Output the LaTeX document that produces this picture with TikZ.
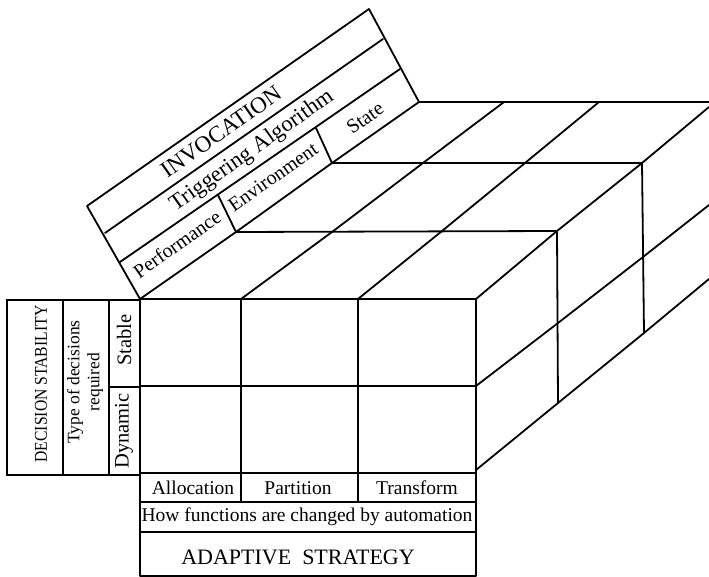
\documentclass[tikz,border=0pt]{standalone}
\usepackage{fontspec}
\setmainfont{Liberation Serif}
\begin{document}
\begin{tikzpicture}[x=1pt,y=-1pt,
  ln/.style={line width=1.8pt, line cap=round, line join=round},
  bx/.style={line width=1.5pt, line join=miter},
  lbl/.style={inner sep=0pt, font=\fontsize{19.5}{22}\selectfont},
  big/.style={inner sep=0pt, font=\fontsize{23}{26}\selectfont},
  band/.style={inner sep=0pt, rotate=35.2, font=\fontsize{20}{22}\selectfont}]
\useasboundingbox (0,0) rectangle (709,577);
\fill[white] (0,0) rectangle (709,577);
\begin{scope}
\clip (0,0) rectangle (709,577);
% ---------- front face ----------
\draw[ln] (140,299) -- (476,299);
\draw[ln] (140,386) -- (476,386);
\draw[ln] (140,473) -- (476,473);
\draw[ln] (140,299) -- (140,576);
\draw[ln] (241,299) -- (241,502);
\draw[ln] (358,299) -- (358,502);
\draw[ln] (476,299) -- (476,576);
% ---------- bottom label boxes ----------
\draw[bx] (140,502) -- (476,502);
\draw[bx] (140,532) -- (476,532);
\draw[bx] (140,576) -- (476,576);
% ---------- top face ----------
\draw[ln] (140,299) -- (236,232) -- (332,163) -- (419,102);
\draw[ln] (241,299) -- (332,232) -- (423,163) -- (504,102);
\draw[ln] (358,299) -- (442,231) -- (525,163) -- (599,102);
\draw[ln] (476,299) -- (557,231) -- (642,163) -- (709,107);
\draw[ln] (236,232) -- (557,231);
\draw[ln] (332,163) -- (642,163);
\draw[ln] (419,102) -- (709,102);
% ---------- right face ----------
\draw[ln] (557,231) -- (558,403);
\draw[ln] (642,163) -- (644,333);
\draw[ln] (476,386) -- (558,323) -- (643,257) -- (709,205);
\draw[ln] (476,470) -- (558,403) -- (644,333) -- (709,279);
% ---------- invocation band ----------
\draw[ln] (140,299) -- (87,206) -- (369,9) -- (419,102);
\draw[ln] (105,233) -- (383,39);
\draw[ln] (120,262) -- (400,69);
\draw[ln] (236,232) -- (218,195);
\draw[ln] (332,163) -- (316,128);
% ---------- left block ----------
\draw[bx] (7,300) rectangle (140,475);
\draw[bx] (63,300) -- (63,475);
\draw[bx] (109,300) -- (109,475);
\draw[bx] (109,387) -- (140,387);
\end{scope}
% ---------- texts ----------
\node[band, font=\fontsize{23}{26}\selectfont] (inv) at (221,132) {INVOCATION};
\node[band, font=\fontsize{22.5}{25}\selectfont] (trig) at (252,151) {Triggering Algorithm};
\node[band] (perf) at (177,244) {Performance};
\node[band] (env) at (273,177) {Environment};
\node[band] (state) at (365,118) {State};
\node[inner sep=0pt, rotate=90] (ds) at (41,384) {\scalebox{0.87}[1]{\fontsize{18}{20}\selectfont DECISION STABILITY}};
\node[inner sep=0pt, rotate=90, align=center, font=\fontsize{17.5}{20}\selectfont] (tod) at (85,382) {Type of decisions\\required};
\node[lbl, rotate=90, font=\fontsize{20.5}{22}\selectfont] (stab) at (124,340) {Stable};
\node[lbl, rotate=90, font=\fontsize{20.5}{22}\selectfont] (dyn) at (124,431) {Dynamic};
\node[lbl] (alloc) at (193,488) {Allocation};
\node[lbl] (part) at (298,488) {Partition};
\node[lbl] (trans) at (417,488) {Transform};
\node[lbl] (how) at (307,517) {How functions are changed by automation};
\node[big, font=\fontsize{22}{24}\selectfont] (adapt) at (298,557) {ADAPTIVE\ \ STRATEGY};
\end{tikzpicture}
\end{document}
